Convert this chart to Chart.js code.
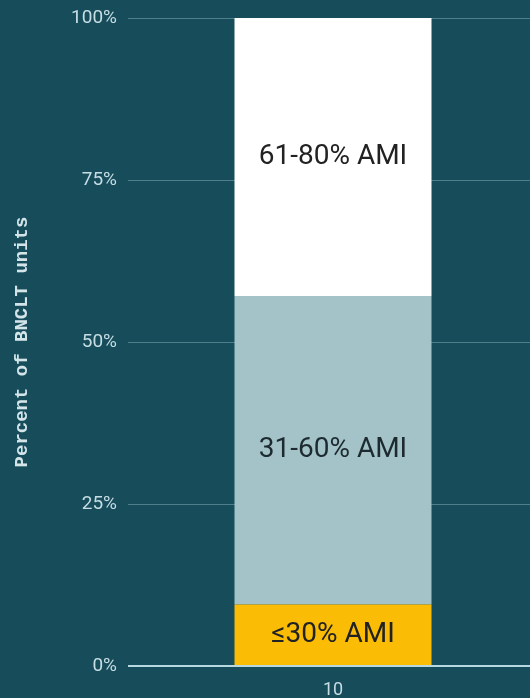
<!DOCTYPE html>
<html>
<head>
<meta charset="utf-8">
<script src="https://cdn.jsdelivr.net/npm/chart.js@4/dist/chart.umd.min.js"></script>
<style>
  html, body { margin: 0; padding: 0; background: #174d5b; overflow: hidden; }
  #wrap { width: 530px; height: 698px; }
</style>
</head>
<body>
<div id="wrap"><canvas id="c" width="530" height="698"></canvas></div>
<script>
// BNCLT unit affordability mix, share of units by income band (%)
const categories = ['10'];
const bandNames = ['≤30% AMI', '31-60% AMI', '61-80% AMI'];
const band30 = [9.5];
const band60 = [47.6];
const band80 = [42.9];
const yTicks = [0, 25, 50, 75, 100];

const BG = '#174d5b';
const TICK_COLOR = '#c6dde4';
const BASELINE = '#b8d8e0';

// Paints the teal backdrop behind everything
const backdrop = {
  id: 'backdrop',
  beforeDraw(chart) {
    const ctx = chart.ctx;
    ctx.save();
    ctx.fillStyle = BG;
    ctx.fillRect(0, 0, chart.width, chart.height);
    ctx.restore();
  }
};

// Writes each band name in the middle of its bar segment,
// then lays the bright zero baseline over the bar foot
const segmentLabels = {
  id: 'segmentLabels',
  afterDatasetsDraw(chart) {
    const ctx = chart.ctx;
    ctx.save();
    ctx.font = '28px Roboto';
    ctx.textAlign = 'center';
    ctx.textBaseline = 'middle';
    chart.data.datasets.forEach((ds, i) => {
      const meta = chart.getDatasetMeta(i);
      meta.data.forEach(bar => {
        const p = bar.getProps(['x', 'y', 'base'], true);
        ctx.fillStyle = ds.labelColor;
        ctx.fillText(ds.label, p.x, (p.y + p.base) / 2);
      });
    });
    const y = chart.scales.y;
    const y0 = Math.round(y.getPixelForValue(0));
    const tl = y.options.grid.tickLength;
    ctx.strokeStyle = BASELINE;
    ctx.lineWidth = 2;
    ctx.beginPath();
    ctx.moveTo(chart.chartArea.left - tl, y0);
    ctx.lineTo(chart.chartArea.right, y0);
    ctx.stroke();
    ctx.restore();
  }
};

new Chart(document.getElementById('c'), {
  type: 'bar',
  data: {
    labels: categories,
    datasets: [
      { label: bandNames[0], data: band30, backgroundColor: '#fbbc05', labelColor: '#222222' },
      { label: bandNames[1], data: band60, backgroundColor: '#a3c3c9', labelColor: '#1d2b30' },
      { label: bandNames[2], data: band80, backgroundColor: '#ffffff', labelColor: '#222222' }
    ]
  },
  options: {
    responsive: false,
    animation: false,
    devicePixelRatio: 1,
    layout: { padding: { top: 18, right: 0, bottom: 0, left: 0 } },
    plugins: {
      legend: { display: false },
      tooltip: { enabled: false }
    },
    datasets: {
      bar: { categoryPercentage: 1.0, barPercentage: 0.5, borderWidth: 0 }
    },
    scales: {
      x: {
        stacked: true,
        grid: { display: false },
        border: { display: false },
        ticks: { color: TICK_COLOR, font: { family: 'Roboto', size: 18 }, padding: 6 },
        afterFit(scale) { scale.height = 32; }
      },
      y: {
        stacked: true,
        min: 0,
        max: 100,
        afterBuildTicks(scale) { scale.ticks = yTicks.map(v => ({ value: v })); },
        grid: {
          color: c => (c.tick && c.tick.value === 0) ? BASELINE : '#4f7f8b',
          lineWidth: 1,
          tickLength: 8,
          drawTicks: true
        },
        border: { display: false },
        ticks: {
          color: TICK_COLOR,
          font: { family: 'Roboto', size: 19 },
          padding: 11,
          callback: v => v + '%'
        },
        title: {
          display: true,
          text: 'Percent of BNCLT units',
          color: '#d4e5ea',
          font: { family: 'Liberation Mono', size: 19, weight: 'bold' },
          padding: { top: 11, bottom: 0 }
        },
        afterFit(scale) {
          scale.width = 136;
          scale.paddingTop = 0;
          scale.paddingBottom = 0;
        }
      }
    }
  },
  plugins: [backdrop, segmentLabels]
});
</script>
</body>
</html>
